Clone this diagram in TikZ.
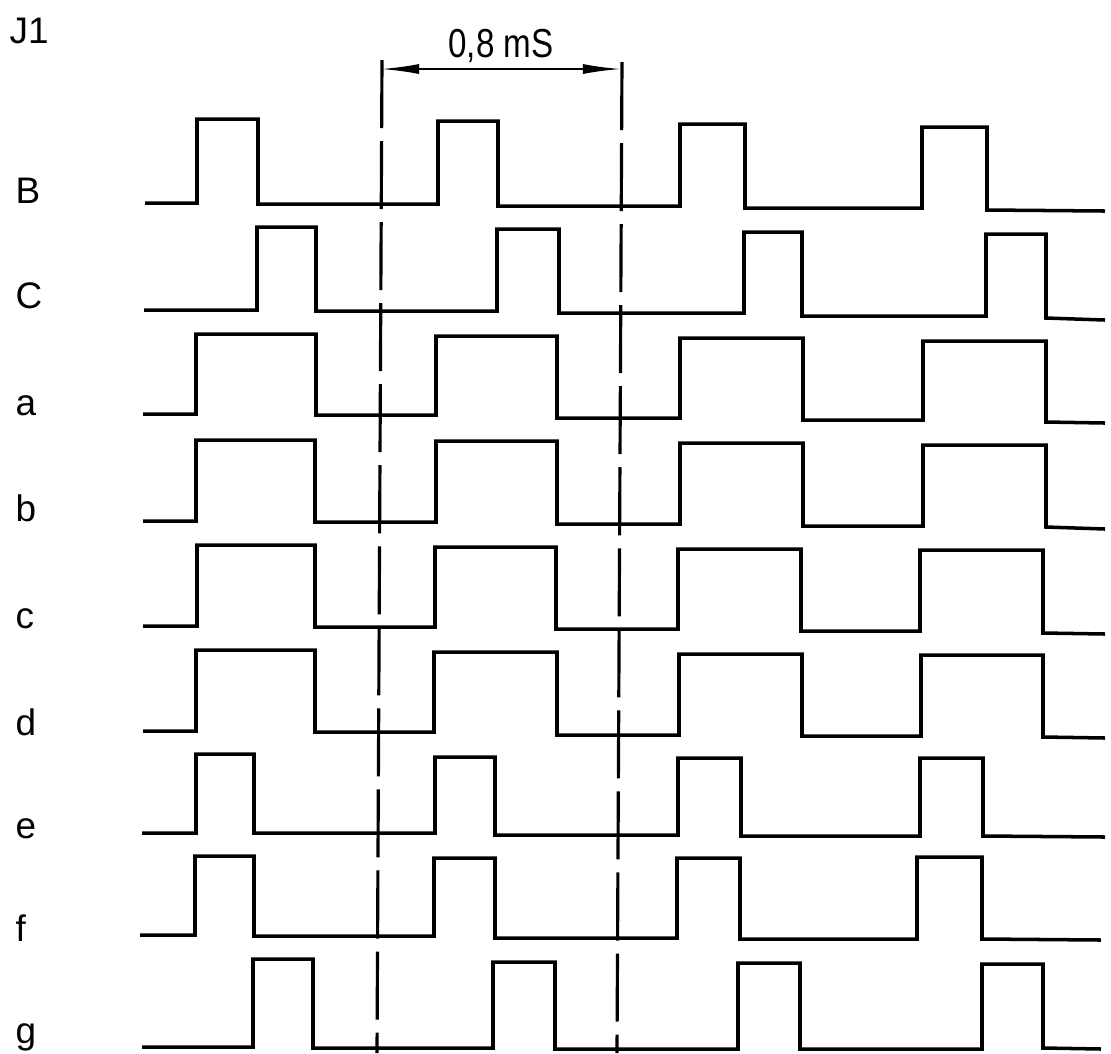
\documentclass[tikz,border=0pt]{standalone}
\usepackage{fontspec}
\setmainfont{Liberation Sans}
\newfontfamily\dimfont[FakeStretch=0.82]{Liberation Sans}
\usetikzlibrary{arrows.meta}

\begin{document}
\begin{tikzpicture}[x=0.01cm,y=-0.01cm,
		lbl/.style={anchor=base west,inner sep=0pt,font=\fontsize{10.5}{12}\selectfont},
		wave/.style={line width=1pt,line join=miter},
		cut/.style={line width=0.9pt,dash pattern=on 0.68cm off 0.13cm},
		dim/.style={line width=0.6pt,{Latex[length=0.38cm,width=0.1cm]}-{Latex[length=0.38cm,width=0.1cm]}}]
	\useasboundingbox (0,0) rectangle (1111,1053);
	\node (j1) [lbl] at (9,43) {J1};
	\node (lB) [lbl] at (15,203) {B};
	\node (lC) [lbl] at (15,308) {C};
	\node (la) [lbl] at (15,415) {a};
	\node (lb) [lbl] at (15,521) {b};
	\node (lc) [lbl] at (15,628) {c};
	\node (ld) [lbl] at (15,735) {d};
	\node (le) [lbl] at (15,838) {e};
	\node (lf) [lbl] at (15,941) {f};
	\node (lg) [lbl] at (15,1043) {g};
	\draw[wave] (145,203) -| (197,119) -| (258,204) -| (438,121) -| (498,206) -| (680,124) -| (745,208) -| (922,127) -| (987,210) -- (1105,211);
	\draw[wave] (144,310) -| (257,227) -| (316,311) -| (497,229) -| (559,313) -| (744,232) -| (802,316) -| (986,234) -| (1046,318) -- (1105,320);
	\draw[wave] (143,414) -| (196,334) -| (316,415) -| (436,336) -| (557,418) -| (680,338) -| (803,420) -| (923,341) -| (1046,422) -- (1105,423);
	\draw[wave] (143,521) -| (196,440) -| (315,522) -| (436,441) -| (557,524) -| (680,443) -| (803,526) -| (923,445) -| (1046,527) -- (1105,529);
	\draw[wave] (143,626) -| (197,545) -| (315,627) -| (435,547) -| (556,629) -| (678,549) -| (801,631) -| (920,550) -| (1043,633) -- (1105,634);
	\draw[wave] (143,731) -| (196,650) -| (315,732) -| (434,652) -| (557,735) -| (679,654) -| (802,736) -| (921,655) -| (1043,737) -- (1105,738);
	\draw[wave] (142,833) -| (196,754) -| (254,833) -| (435,757) -| (495,835) -| (678,758) -| (741,836) -| (920,758) -| (983,836) -- (1105,837);
	\draw[wave] (140,935) -| (195,856) -| (254,936) -| (434,858) -| (495,938) -| (677,858) -| (740,939) -| (917,857) -| (982,939) -- (1101,940);
	\draw[wave] (142,1047) -| (253,959) -| (313,1048) -| (493,962) -| (555,1049) -| (738,963) -| (800,1049) -| (982,964) -| (1043,1048) -- (1101,1049);
	\coordinate (t1) at (382,60);
	\coordinate (t1e) at (377,1053);
	\coordinate (t2) at (622,62);
	\coordinate (t2e) at (617,1053);
	\coordinate (m1) at (381,69);
	\coordinate (m2) at (621,69);
	\draw[cut] (t1) -- (t1e);
	\draw[cut] (t2) -- (t2e);
	\draw[dim] (m1) -- (m2);
	\node (dur) [anchor=base,inner sep=0pt,font=\dimfont\fontsize{11.5}{13}\selectfont] at (501,57) {0,8 mS};
\end{tikzpicture}
\end{document}
